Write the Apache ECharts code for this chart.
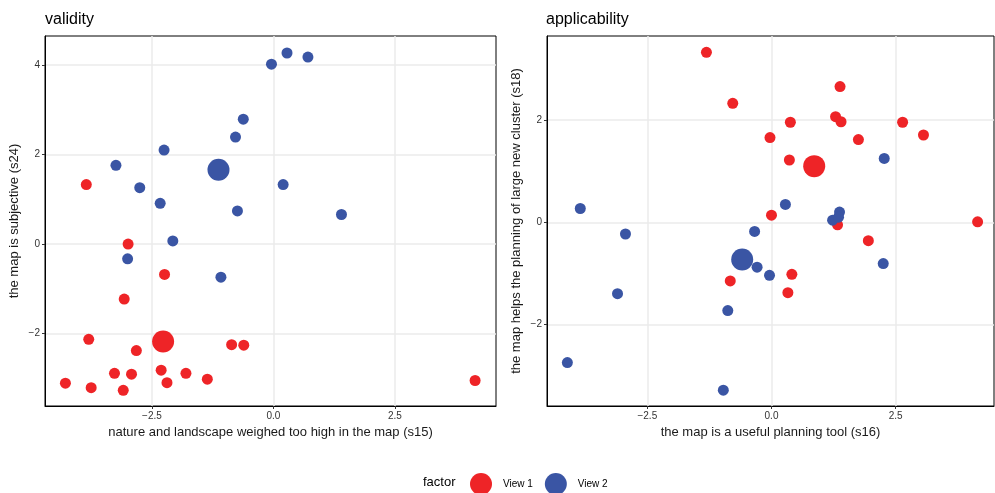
<!DOCTYPE html>
<html>
<head>
<meta charset="utf-8">
<script src="https://cdn.jsdelivr.net/npm/echarts@6/dist/echarts.min.js"></script>
<style>
  html, body { margin: 0; padding: 0; background: #fff; }
  #chart { width: 995px; height: 493px; }
</style>
</head>
<body>
<div id="chart"></div>
<script>
// validity panel: s15 (x) vs s24 (y)
const validityView1 = [
  [-3.85, 1.33], [-2.99, 0.00], [-2.24, -0.68], [-3.07, -1.23], [-3.80, -2.13],
  [-2.82, -2.38], [-0.86, -2.25], [-0.61, -2.26], [-2.31, -2.82], [-3.27, -2.89],
  [-2.92, -2.91], [-1.80, -2.89], [-4.28, -3.11], [-2.19, -3.10], [-1.36, -3.02],
  [-3.75, -3.21], [-3.09, -3.27], [4.15, -3.05]
];
const validityView2 = [
  [-0.04, 4.02], [0.28, 4.27], [0.71, 4.18], [-0.62, 2.79], [-0.78, 2.39],
  [-2.25, 2.10], [-3.24, 1.76], [-2.75, 1.26], [0.20, 1.33], [-2.33, 0.91],
  [-0.74, 0.74], [1.40, 0.66], [-2.07, 0.07], [-3.00, -0.33], [-1.08, -0.74]
];
const validityCentre1 = [-2.27, -2.18];
const validityCentre2 = [-1.13, 1.66];

// applicability panel: s16 (x) vs s18 (y)
const applicView1 = [
  [-1.31, 3.33], [-0.78, 2.33], [1.38, 2.66], [1.29, 2.07], [1.40, 1.97],
  [0.38, 1.96], [-0.03, 1.66], [2.64, 1.96], [3.06, 1.71], [1.75, 1.62],
  [0.36, 1.22], [0.00, 0.14], [1.33, -0.05], [4.15, 0.01], [1.95, -0.36],
  [0.41, -1.02], [-0.83, -1.15], [0.33, -1.38]
];
const applicView2 = [
  [2.27, 1.25], [-3.85, 0.27], [0.28, 0.35], [1.37, 0.20], [1.23, 0.04],
  [1.35, 0.10], [-2.94, -0.23], [-0.34, -0.18], [-0.29, -0.88], [-0.04, -1.04],
  [2.25, -0.81], [-3.10, -1.40], [-0.88, -1.73], [-4.11, -2.75], [-0.97, -3.29]
];
const applicCentre1 = [0.86, 1.10];
const applicCentre2 = [-0.59, -0.73];

const xTicks = [-2.5, 0, 2.5];
const yTicksLeft = [-2, 0, 2, 4];
const yTicksRight = [-2, 0, 2];

const RED = '#ee2427';
const BLUE = '#3a55a4';
const FONT = 'Liberation Sans';

const fmtX = v => (v < 0 ? '\u2212' : '') + Math.abs(v).toFixed(1);
const fmtY = v => (v < 0 ? '\u2212' : '') + Math.abs(Math.round(v));

function xAxisFor(gridIndex, name, min, max) {
  return {
    type: 'value', gridIndex, name, min, max,
    nameLocation: 'middle', nameGap: 20,
    nameTextStyle: { fontFamily: FONT, fontSize: 13, color: '#1a1a1a' },
    axisLine: { show: true, onZero: false, lineStyle: { color: '#000', width: 1 } },
    axisTick: { show: true, length: 3, customValues: xTicks, lineStyle: { color: '#333' } },
    axisLabel: { customValues: xTicks, formatter: fmtX, fontFamily: FONT, fontSize: 10, color: '#333', margin: 5 },
    splitLine: { show: true, lineStyle: { color: '#ebebeb', width: 1.5 } }
  };
}
function yAxisFor(gridIndex, name, min, max, ticks) {
  return {
    type: 'value', gridIndex, name, min, max,
    nameLocation: 'middle', nameGap: 24,
    nameTextStyle: { fontFamily: FONT, fontSize: 13, color: '#1a1a1a' },
    axisLine: { show: true, onZero: false, lineStyle: { color: '#000', width: 1 } },
    axisTick: { show: true, length: 3, customValues: ticks, lineStyle: { color: '#333' } },
    axisLabel: { customValues: ticks, formatter: fmtY, fontFamily: FONT, fontSize: 10, color: '#333', margin: 5 },
    splitLine: { show: true, lineStyle: { color: '#ebebeb', width: 1.5 } }
  };
}

function pts(name, data, idx, color, size) {
  return {
    type: 'scatter', name, data, xAxisIndex: idx, yAxisIndex: idx,
    symbol: 'circle', symbolSize: size,
    itemStyle: { color, opacity: 1 },
    emphasis: { disabled: true }
  };
}

const chart = echarts.init(document.getElementById('chart'));
chart.setOption({
  animation: false,
  textStyle: { fontFamily: FONT },
  title: [
    { text: 'validity', left: 40, top: 7, textStyle: { fontFamily: FONT, fontSize: 16, fontWeight: 'normal', color: '#000' } },
    { text: 'applicability', left: 541, top: 7, textStyle: { fontFamily: FONT, fontSize: 16, fontWeight: 'normal', color: '#000' } },
    { text: 'factor', left: 418, top: 471, textStyle: { fontFamily: FONT, fontSize: 13, fontWeight: 'normal', color: '#000' } }
  ],
  legend: {
    left: 465, top: 468,
    itemWidth: 22, itemHeight: 22, itemGap: 12,
    icon: 'circle',
    data: ['View 1', 'View 2'],
    textStyle: { fontFamily: FONT, fontSize: 10, color: '#000', padding: [0, 0, 0, 6] }
  },
  grid: [
    { left: 45, top: 36, width: 451, height: 370, show: true, borderColor: '#000', borderWidth: 1, backgroundColor: 'transparent' },
    { left: 547, top: 36, width: 447, height: 370, show: true, borderColor: '#000', borderWidth: 1, backgroundColor: 'transparent' }
  ],
  xAxis: [
    xAxisFor(0, 'nature and landscape weighed too high in the map (s15)', -4.70, 4.58),
    xAxisFor(1, 'the map is a useful planning tool (s16)', -4.52, 4.48)
  ],
  yAxis: [
    yAxisFor(0, 'the map is subjective (s24)', -3.62, 4.65, yTicksLeft),
    yAxisFor(1, 'the map helps the planning of large new cluster (s18)', -3.60, 3.65, yTicksRight)
  ],
  series: [
    pts('View 1', validityView1, 0, RED, 11),
    pts('View 2', validityView2, 0, BLUE, 11),
    pts('View 1', [validityCentre1], 0, RED, 22),
    pts('View 2', [validityCentre2], 0, BLUE, 22),
    pts('View 1', applicView1, 1, RED, 11),
    pts('View 2', applicView2, 1, BLUE, 11),
    pts('View 1', [applicCentre1], 1, RED, 22),
    pts('View 2', [applicCentre2], 1, BLUE, 22)
  ]
});
</script>
</body>
</html>
